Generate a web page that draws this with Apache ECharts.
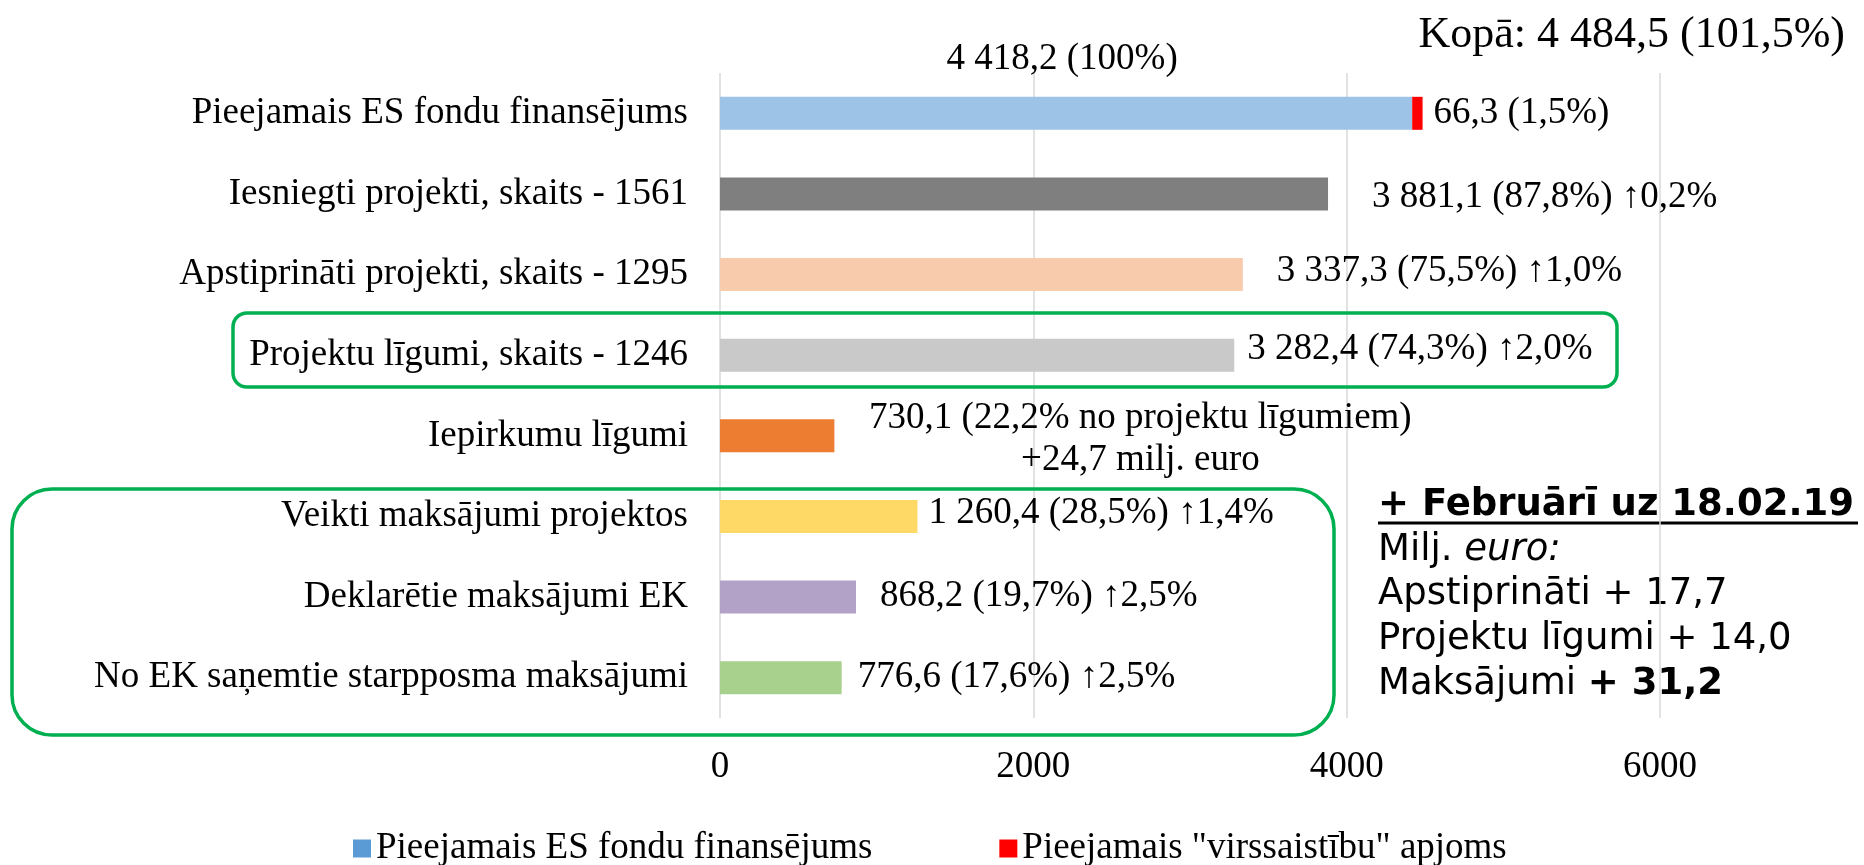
<!DOCTYPE html>
<html>
<head>
<meta charset="utf-8">
<script src="https://cdn.jsdelivr.net/npm/echarts@6/dist/echarts.min.js"></script>
<style>
  html, body { margin: 0; padding: 0; background: #fff; }
  #main { width: 1864px; height: 865px; }
</style>
</head>
<body>
<div id="main"></div>
<script>
// dati
const categories = [
  'Pieejamais ES fondu finansējums',
  'Iesniegti projekti, skaits - 1561',
  'Apstiprināti projekti, skaits - 1295',
  'Projektu līgumi, skaits - 1246',
  'Iepirkumu līgumi',
  'Veikti maksājumi projektos',
  'Deklarētie maksājumi EK',
  'No EK saņemtie starpposma maksājumi'
];
const fundValues = [4418.2, 3881.1, 3337.3, 3282.4, 730.1, 1260.4, 868.2, 776.6];
const overValues = [66.3, '-', '-', '-', '-', '-', '-', '-'];
const fundLabels = [
  '4 418,2 (100%)',
  '3 881,1 (87,8%) ↑0,2%',
  '3 337,3 (75,5%) ↑1,0%',
  '3 282,4 (74,3%) ↑2,0%',
  '730,1 (22,2% no projektu līgumiem)\n+24,7 milj. euro',
  '1 260,4 (28,5%) ↑1,4%',
  '868,2 (19,7%) ↑2,5%',
  '776,6 (17,6%) ↑2,5%'
];
const overLabels = ['66,3 (1,5%)'];
const xTicks = { min: 0, max: 6000, interval: 2000 };
const totalText = 'Kopā: 4 484,5 (101,5%)';
const seriesNames = ['Pieejamais ES fondu finansējums', 'Pieejamais "virssaistību" apjoms'];

// izskats
const barColors = ['#9DC3E6', '#7F7F7F', '#F8CBAD', '#C9C9C9', '#ED7D31', '#FFD966', '#B3A2C7', '#A9D18E'];
const labelDistance = [19, 44, 34, 13, 306, 11, 24, 16];
const labelDy = [0, 3, -3, -6, 3, -3, -1, 0];
const serif = "'Times New Roman', 'Liberation Serif', serif";
const sans = "Verdana, 'DejaVu Sans', sans-serif";

const fundData = fundValues.map(function (v, i) {
  let label = {
    show: true,
    position: i === 0 ? 'top' : 'right',
    distance: labelDistance[i],
    offset: i === 0 ? [-4, 0] : [0, labelDy[i]]
  };
  if (i === 4) {
    label.align = 'center';
    label.lineHeight = 42;
  }
  return { value: v, itemStyle: { color: barColors[i] }, label: label };
});

const chart = echarts.init(document.getElementById('main'));
const option = {
  animation: false,
  backgroundColor: '#fff',
  title: {
    text: totalText,
    right: 14,
    top: 8,
    textStyle: { fontFamily: serif, fontSize: 44, fontWeight: 'normal', color: '#000' }
  },
  legend: {
    data: seriesNames,
    left: 348,
    top: 825,
    icon: 'rect',
    itemWidth: 18,
    itemHeight: 18,
    itemGap: 127,
    textStyle: { fontFamily: serif, fontSize: 37, color: '#000' }
  },
  grid: { left: 720, right: 204, top: 73, bottom: 147, containLabel: false },
  xAxis: {
    type: 'value',
    min: xTicks.min,
    max: xTicks.max,
    interval: xTicks.interval,
    axisLine: { show: false },
    axisTick: { show: false },
    axisLabel: {
      fontFamily: serif, fontSize: 37, color: '#000', margin: 31,
      formatter: function (v) { return String(v); }
    },
    splitLine: { show: true, lineStyle: { color: '#D9D9D9', width: 1.5 } }
  },
  yAxis: {
    type: 'category',
    data: categories,
    inverse: true,
    axisLine: { show: false },
    axisTick: { show: false },
    axisLabel: { fontFamily: serif, fontSize: 37, color: '#000', margin: 32 }
  },
  series: [{
    name: seriesNames[0],
    type: 'bar',
    stack: 'kopa',
    barWidth: 33,
    itemStyle: { color: '#5B9BD5' },
    label: {
      fontFamily: serif, fontSize: 37, color: '#000',
      formatter: function (p) { return fundLabels[p.dataIndex]; }
    },
    data: fundData
  }, {
    name: seriesNames[1],
    type: 'bar',
    stack: 'kopa',
    barWidth: 33,
    itemStyle: { color: '#FF0000' },
    label: {
      show: true, position: 'right', distance: 11, offset: [0, 0],
      fontFamily: serif, fontSize: 37, color: '#000',
      formatter: function (p) { return overLabels[p.dataIndex] || ''; }
    },
    data: overValues
  }],
  graphic: [
    // zaļie rāmji
    { type: 'rect', z: 10, shape: { x: 233, y: 313, width: 1384, height: 74, r: 14 },
      style: { fill: 'none', stroke: '#00B050', lineWidth: 3.5 } },
    { type: 'rect', z: 10, shape: { x: 12, y: 489, width: 1322, height: 246, r: 40 },
      style: { fill: 'none', stroke: '#00B050', lineWidth: 3.5 } },
    // teksts labajā pusē
    { type: 'text', x: 1378, y: 505,
      style: { text: '+ Februārī uz 18.02.19', font: "bold 37px " + sans, fill: '#000', verticalAlign: 'middle' } },
    { type: 'line', shape: { x1: 1378, y1: 523, x2: 1858, y2: 523 },
      style: { stroke: '#000', lineWidth: 3 } },
    { type: 'text', x: 1378, y: 550,
      style: { text: '{n|Milj. }{i|euro:}', verticalAlign: 'middle',
        rich: { n: { font: "37px " + sans, fill: '#000' }, i: { font: "italic 37px " + sans, fill: '#000' } } } },
    { type: 'text', x: 1378, y: 594,
      style: { text: 'Apstiprināti + 17,7', font: "37px " + sans, fill: '#000', verticalAlign: 'middle' } },
    { type: 'text', x: 1378, y: 639,
      style: { text: 'Projektu līgumi + 14,0', font: "37px " + sans, fill: '#000', verticalAlign: 'middle' } },
    { type: 'text', x: 1378, y: 684,
      style: { text: '{n|Maksājumi }{b|+ 31,2}', verticalAlign: 'middle',
        rich: { n: { font: "37px " + sans, fill: '#000' }, b: { font: "bold 37px " + sans, fill: '#000' } } } }
  ]
};
chart.setOption(option);
</script>
</body>
</html>
